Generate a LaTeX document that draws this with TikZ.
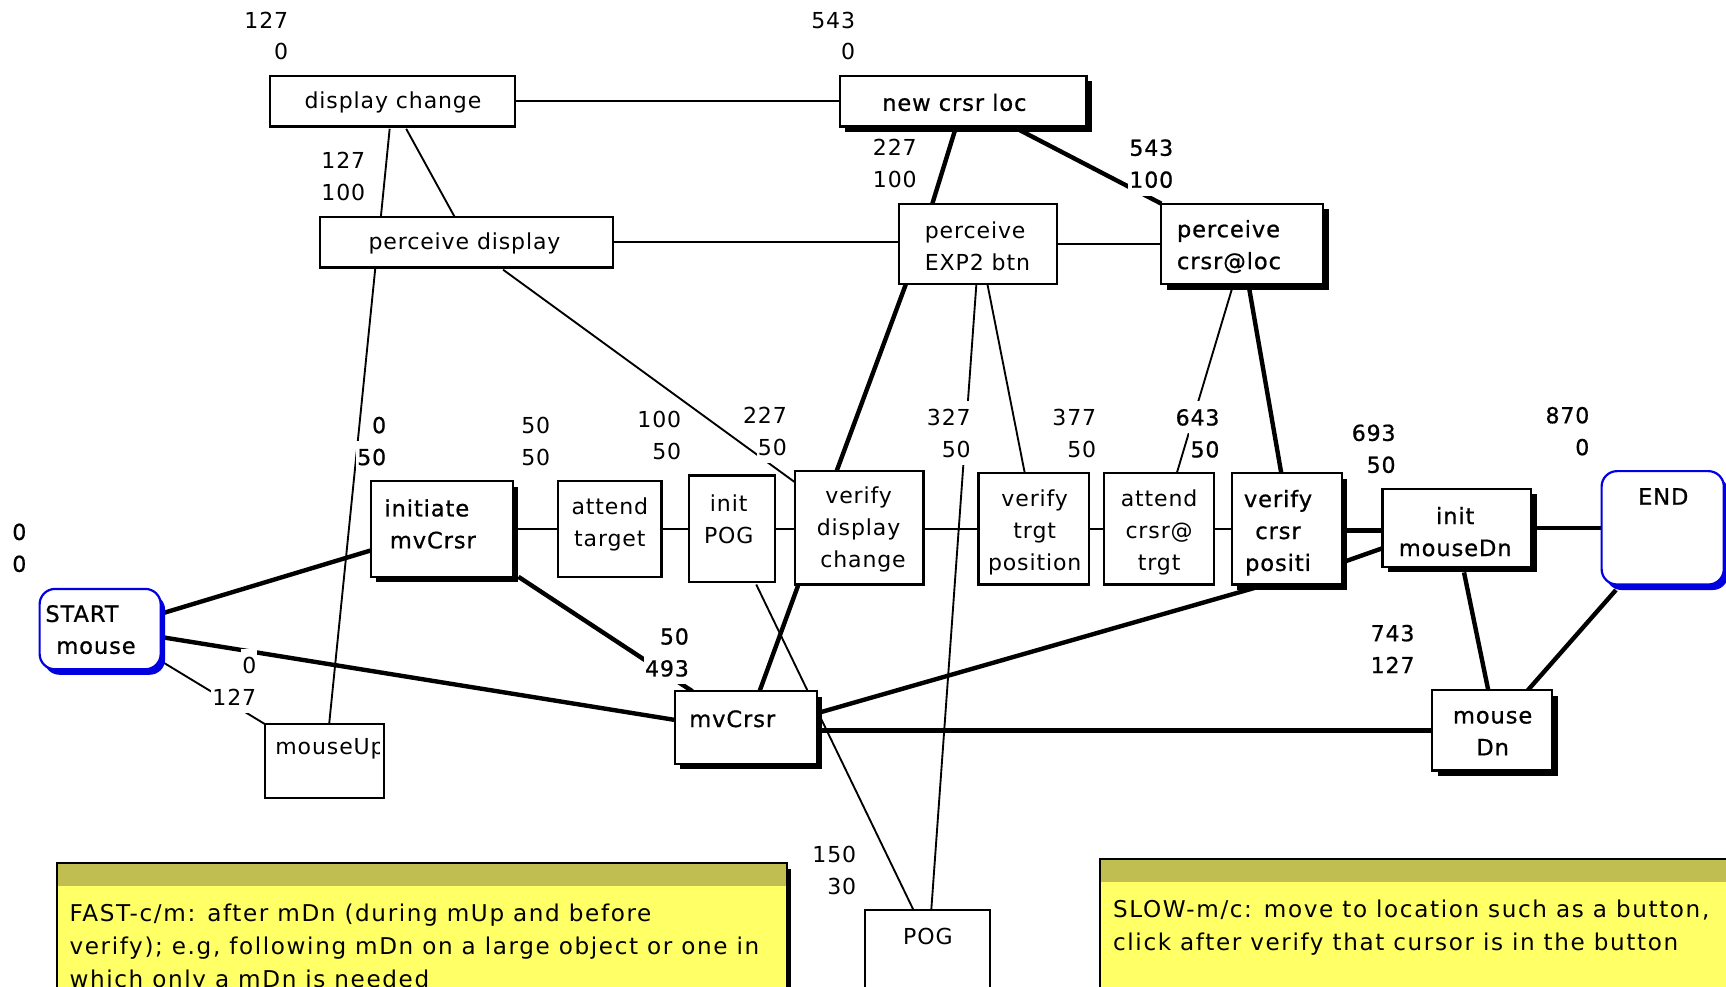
\documentclass[tikz,border=0pt]{standalone}
\usepackage{fontspec}
\setmainfont[LetterSpace=4]{DejaVu Sans}
\newfontfamily\heavy[LetterSpace=4,FakeBold=0.8]{DejaVu Sans}
\newfontfamily\notefont[LetterSpace=7]{DejaVu Sans}
\usetikzlibrary{calc,shadows,backgrounds}
\definecolor{noteyellow}{RGB}{255,255,102}
\definecolor{noteband}{RGB}{192,190,80}
\definecolor{termblue}{RGB}{0,0,225}
% a number line with its own white backing
\newcommand{\lb}[1]{{\fboxsep=0pt\colorbox{white}{\hspace{1pt}\rule[-7.2pt]{0pt}{29pt}#1\hspace{1pt}}}}
\tikzset{
  box/.style={draw, line width=2pt, fill=white, inner sep=0pt, outer sep=0pt, anchor=north west},
  sbox/.style={box, drop shadow={shadow xshift=5pt, shadow yshift=-5pt, fill=black, opacity=1}},
  term/.style={box, draw=termblue, rounded corners=14pt,
    drop shadow={shadow xshift=4pt, shadow yshift=-5pt, fill=termblue, opacity=1}},
  note/.style={draw, line width=2pt, fill=noteyellow, inner sep=0pt, outer sep=0pt, anchor=north west,
    drop shadow={shadow xshift=4pt, shadow yshift=-5pt, fill=black, opacity=1},
    path picture={\fill[noteband] (path picture bounding box.north west) rectangle
      ([yshift=-21pt]path picture bounding box.north east);}},
  wire/.style={line width=1.7pt},
  bus/.style={line width=4pt},
  txt/.style={inner sep=0pt, align=center},
  ltxt/.style={inner sep=0pt, align=left, anchor=west},
  htxt/.style={txt, font=\heavy\fontsize{20.5}{29}\selectfont},
  hltxt/.style={ltxt, font=\heavy\fontsize{20.5}{29}\selectfont},
  num/.style={inner sep=0pt, align=right, anchor=north east},
  lnum/.style={inner sep=0pt, align=left, anchor=north west},
  hnum/.style={num, font=\heavy\fontsize{20}{29}\selectfont},
  hlnum/.style={lnum, font=\heavy\fontsize{20}{29}\selectfont},
  notetxt/.style={inner sep=0pt, align=left, anchor=west, font=\notefont\fontsize{21}{30}\selectfont},
}
\begin{document}
\begin{tikzpicture}[x=1pt, y=-1pt, font=\fontsize{20}{29}\selectfont]
\useasboundingbox (0,0) rectangle (1568,896);
\clip (0,0) rectangle (1568,896);

% ---- boxes ----
\node[box,  minimum width=223pt, minimum height=46pt]  (dc)  at (245,69)  {};
\node[sbox, minimum width=224pt, minimum height=46pt]  (ncl) at (763,69)  {};
\node[box,  minimum width=266pt, minimum height=46pt]  (pd)  at (291,197) {};
\node[box,  minimum width=143pt, minimum height=73pt]  (pe)  at (817,185) {};
\node[sbox, minimum width=147pt, minimum height=73pt]  (pc)  at (1055,185) {};
\node[sbox, minimum width=129pt, minimum height=87pt]  (im)  at (337,437) {};
\node[box,  minimum width=94pt,  minimum height=87pt]  (atg) at (507,437) {};
\node[box,  minimum width=78pt,  minimum height=97pt]  (ip)  at (626,432) {};
\node[box,  minimum width=117pt, minimum height=103pt] (vd)  at (722,428) {};
\node[box,  minimum width=100pt, minimum height=101pt] (vt)  at (889,430) {};
\node[box,  minimum width=100pt, minimum height=101pt] (ac)  at (1003,430) {};
\node[sbox, minimum width=100pt, minimum height=101pt] (vc)  at (1119,430) {};
\node[sbox, minimum width=135pt, minimum height=71pt]  (imd) at (1256,444) {};
\node[term, minimum width=111pt, minimum height=103pt] (fin) at (1455,428) {};
\node[term, minimum width=110pt, minimum height=73pt]  (st)  at (36,535)  {};
\node[sbox, minimum width=129pt, minimum height=66pt]  (mv)  at (613,628) {};
\node[sbox, minimum width=109pt, minimum height=73pt]  (md)  at (1301,627) {};
\node[box,  minimum width=108pt, minimum height=67pt]  (mu)  at (241,658) {};
\node[box,  minimum width=113pt, minimum height=110pt] (pog) at (786,827) {};

% ---- notes ----
\node[note, minimum width=663pt, minimum height=170pt] (fast) at (52,784) {};
\node[note, minimum width=620pt, minimum height=170pt] (slow) at (999,780) {};

% ---- connectors ----
\begin{pgfonlayer}{background}
\draw[wire] (dc.east) -- (ncl.west);
\draw[wire] ($(dc.south west)+(109,2)$) -- ($(pd.north west)+(55,0)$);
\draw[wire] ($(dc.south west)+(124,2)$) -- ($(pd.north west)+(122,0)$);
\draw[wire] (pd.east) -- (pd.east -| pe.west);
\draw[wire] (pe.east) -- (pe.east -| pc.west);
\draw[wire] ($(pd.south west)+(50,0)$) -- ($(mu.north west)+(58,0)$);
\draw[wire] ($(pd.south west)+(166,2)$) -- ($(vd.north west)+(0,10)$);
\draw[wire] ($(pe.south west)+(70,0)$) -- ($(pog.north west)+(60,0)$);
\draw[wire] ($(pe.south west)+(80,0)$) -- ($(vt.north west)+(42,0)$);
\draw[wire] ($(pc.south west)+(64,5)$) -- ($(ac.north west)+(66,0)$);
\draw[wire] (im.east) -- (atg.west);
\draw[wire] (atg.east) -- (atg.east -| ip.west);
\draw[wire] (ip.east) -- (ip.east -| vd.west);
\draw[wire] (vt.west -| vd.east) -- (vt.west);
\draw[wire] (vt.east) -- (ac.west);
\draw[wire] (ac.east) -- (vc.west);
\draw[wire] ($(ip.south west)+(61,2)$) -- ($(pog.north west)+(44,0)$);
\draw[wire] ($(st.north east)+(1,66)$) -- (mu.north west);

\draw[bus] ($(ncl.south west)+(105,2)$) -- ($(pe.north west)+(30,0)$);
\draw[bus] ($(ncl.south west)+(161,2)$) -- (pc.north west);
\draw[bus] ($(pe.south west)+(6,0)$) -- ($(vd.north west)+(38,0)$);
\draw[bus] ($(pc.south west)+(80,5)$) -- ($(vc.north west)+(45,0)$);
\draw[bus] ($(st.north east)+(2,22)$) -- ($(im.south west)+(0,-24)$);
\draw[bus] ($(st.north east)+(2,44)$) -- ($(mv.north west)+(0,26)$);
\draw[bus] ($(im.south east)+(5,0)$) -- ($(mv.north west)+(16,0)$);
\draw[bus] ($(vd.south west)+(3,1)$) -- ($(mv.north west)+(77,0)$);
\draw[bus] ($(vc.south west)+(21,3)$) -- ($(mv.north east)+(0,20)$);
\draw[bus] (mv.east |- md.west) -- (md.west);
\draw[bus] ($(vc.north east)+(0,52)$) -- ($(imd.north west)+(0,38)$);
\draw[bus] ($(vc.north east)+(3,80)$) -- ($(imd.north west)+(0,54)$);
\draw[bus] (imd.east) -- (imd.east -| fin.west);
\draw[bus] ($(imd.south west)+(74,5)$) -- ($(md.north west)+(51,0)$);
\draw[bus] ($(fin.south west)+(13,5)$) -- ($(md.north west)+(87,0)$);
\end{pgfonlayer}

% ---- box texts ----
\node[txt]   (dct)  at (357,93)  {display change};
\node[htxt]  (nclt) at (867,93)  {new crsr loc};
\node[txt]   (pdt)  at (422,221) {perceive display};
\node[ltxt]  (pet)  at (840,224) {perceive\\EXP2 btn};
\node[hltxt] (pct)  at (1069,224) {perceive\\crsr@loc};
\node[hltxt] (imt)  at (349,476) {initiate\\\hspace{5pt}mvCrsr};
\node[txt]   (att)  at (554,476) {attend\\target};
\node[txt]   (ipt)  at (662,472) {init\\POG};
\node[txt]   (vdt)  at (780,481) {verify\\display\\\hspace{8pt}change};
\node[txt]   (vtt)  at (940,484) {verify\\trgt\\position};
\begin{scope}
  \clip ($(ac.south west)+(2,-9)$) rectangle ($(ac.north east)+(-2,2)$);
  \node[txt] (act) at (1053,484) {attend\\crsr@\\trgt};
\end{scope}
\begin{scope}
  \clip ($(vc.south west)+(2,-2)$) rectangle ($(vc.north east)+(-2,2)$);
  \node[htxt] (vct) at (1161,484) {verify\\crsr\\positi};
\end{scope}
\node[htxt]  (imdt) at (1322,483) {init\\mouseDn};
\node[htxt]  (fint) at (1511,451) {END};
\node[hltxt] (stt)  at (41,572)  {START\\\hspace{10pt}mouse};
\node[hltxt] (mvt)  at (626,653) {mvCrsr};
\node[htxt]  (mdt)  at (1356,666) {mouse\\Dn};
\begin{scope}
  \clip ($(mu.south west)+(2,-2)$) rectangle ($(mu.north east)+(-4,2)$);
  \node[ltxt] (mut) at (250,680) {mouseUp};
\end{scope}
\node[txt]   (pogt) at (843,851) {POG};

% ---- note texts ----
\node[notetxt] (fastt) at (63,861) {FAST-c/m: after mDn (during mUp and before\\verify); e.g, following mDn on a large object or one in\\which only a mDn is needed};
\node[notetxt] (slowt) at (1011,842.5) {SLOW-m/c: move to location such as a button,\\click after verify that cursor is in the button};

% ---- number pairs ----
\node[num]   (n1)  at (263,3.5)   {\lb{127}\\\lb{0}};
\node[num]   (n2)  at (778,3.5)   {\lb{543}\\\lb{0}};
\node[num]   (n3)  at (333,131.5) {\lb{127}\\\lb{100}};
\node[num]   (n4)  at (834,119.5) {\lb{227}\\\lb{100}};
\node[hnum]  (n5)  at (1067,119.5) {\lb{543}\\\lb{100}};
\node[hnum]  (n6)  at (352,371.5) {\lb{0}\\\lb{50}};
\node[num]   (n7)  at (501,371.5) {\lb{50}\\\lb{50}};
\node[num]   (n8)  at (620,366.5) {\lb{100}\\\lb{50}};
\node[num]   (n9)  at (716,362.5) {\lb{227}\\\lb{50}};
\node[num]   (n10) at (883,364.5) {\lb{327}\\\lb{50}};
\node[num]   (n11) at (997,364.5) {\lb{377}\\\lb{50}};
\node[hnum]  (n12) at (1109,364.5) {\lb{643}\\\lb{50}};
\node[hnum]  (n13) at (1269,378.5) {\lb{693}\\\lb{50}};
\node[hnum]  (n14) at (1445,362.5) {\lb{870}\\\lb{0}};
\node[hlnum] (n15) at (10,468.5)  {\lb{0}\\\lb{0}};
\node[hnum]  (n16) at (627,563.5) {\lb{50}\\\lb{493}};
\node[num]   (n17) at (234,589.5) {\lb{0}\\\lb{127}};
\node[hlnum] (n18) at (1244,560.5) {\lb{743}\\\lb{127}};
\node[num]   (n19) at (779,761.5) {\lb{150}\\\lb{30}};
\end{tikzpicture}
\end{document}
